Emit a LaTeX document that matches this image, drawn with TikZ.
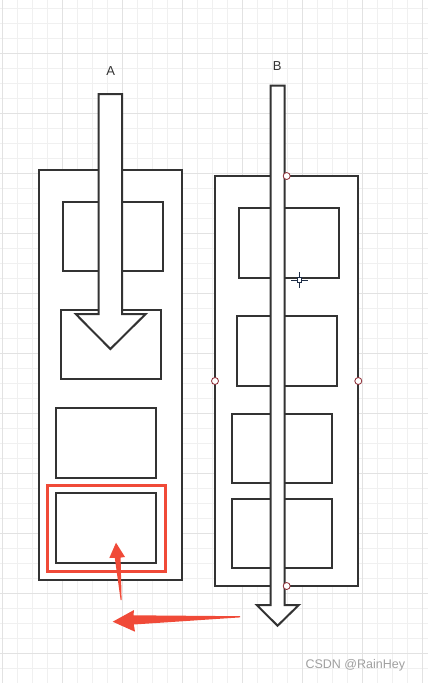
\documentclass[tikz,border=0pt]{standalone}
\usepackage{fontspec}
\setmainfont{Liberation Sans}
\definecolor{gridminor}{RGB}{240,240,240}
\definecolor{gridmajor}{RGB}{226,226,226}
\definecolor{ink}{RGB}{51,51,51}
\definecolor{redmark}{RGB}{240,74,56}
\definecolor{handle}{RGB}{140,40,50}
\definecolor{cross}{RGB}{30,45,70}
\definecolor{wm}{RGB}{160,160,160}
\begin{document}
\begin{tikzpicture}[x=1pt,y=-1pt,
  frame/.style={draw=ink,line width=2pt,fill=white},
  cell/.style={draw=ink,line width=2pt,fill=white},
  bigarrow/.style={draw=ink,line width=2pt,fill=white,line join=miter},
  redbox/.style={draw=redmark,line width=3pt},
  redarrow/.style={fill=redmark,draw=none},
  knob/.style={circle,draw=handle,fill=white,line width=0.8pt,inner sep=0pt,minimum size=7pt},
  lab/.style={font=\fontsize{13}{15}\selectfont,text=ink},
  ]
\useasboundingbox (0,0) rectangle (428,683);
\fill[white] (0,0) rectangle (428,683);
% grid
\foreach \x in {2,17,...,428} \draw[gridminor,line width=0.8pt] (\x,0) -- (\x,683);
\foreach \y in {8,23,...,683} \draw[gridminor,line width=0.8pt] (0,\y) -- (428,\y);
\foreach \x in {2,62,...,428} \draw[gridmajor,line width=1pt] (\x,0) -- (\x,683);
\foreach \y in {53,113,...,683} \draw[gridmajor,line width=1pt] (0,\y) -- (428,\y);

% labels
\node[lab] (labA) at (110.7,71.5) {A};
\node[lab] (labB) at (277.3,66) {B};

% container A
\path[frame] (39,170) rectangle (182,580);
\path[cell] (62.7,202) rectangle (163.3,271);
\path[cell] (60.7,310) rectangle (161,379);
\path[cell] (55.7,407.7) rectangle (156,477.7);
\path[cell] (55.7,492.7) rectangle (156,562.7);
\draw[redbox] (47.7,485.7) rectangle (165,571.7);
% arrow A
\path[bigarrow] (98.5,94) -- (122.2,94) -- (122.2,314) -- (145.7,314) -- (110.35,349)
  -- (75.7,314) -- (98.5,314) -- cycle;

% container B
\path[frame] (215,175.7) rectangle (358.3,586);
\path[cell] (238.7,208) rectangle (339,277.7);
\path[cell] (236.7,316) rectangle (337.3,385.7);
\path[cell] (231.7,414) rectangle (332,483.3);
\path[cell] (231.7,499) rectangle (332,568.3);
% arrow B
\path[bigarrow] (270.7,85.7) -- (284.5,85.7) -- (284.5,605) -- (298.8,605) -- (277.6,625.7)
  -- (256.7,605) -- (270.7,605) -- cycle;

% handles
\node[knob] (kt) at (286.7,176) {};
\node[knob] (kb) at (286.7,586) {};
\node[knob] (kl) at (215,381) {};
\node[knob] (kr) at (358.3,381) {};

% crosshair
\draw[cross,line width=0.9pt] (291,280) -- (296.8,280) (301.8,280) -- (307.5,280)
  (299.3,272) -- (299.3,277.5) (299.3,282.5) -- (299.3,288);
\draw[cross,line width=0.9pt,fill=white] (297,277.7) rectangle (301.6,282.3);

% red arrows
\path[redarrow] (121.6,600) -- (120.6,557.6) -- (125,557) -- (116,542.7) -- (109.3,558)
  -- (114.8,557.8) -- (120.6,600) -- cycle;
\path[redarrow] (240,616.2) -- (133.5,615.3) -- (134,610) -- (112.7,621.7) -- (135,631.7)
  -- (133.8,624.5) -- (240,617.4) -- cycle;

% watermark
\node[font=\fontsize{12.5}{14}\selectfont,text=wm,anchor=west] (wmark) at (302,665) {CSDN @RainHey};
\end{tikzpicture}
\end{document}
